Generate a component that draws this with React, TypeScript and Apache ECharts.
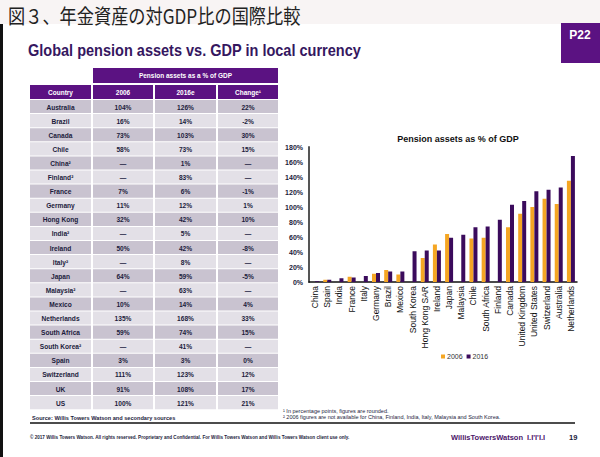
import React, { useEffect, useRef } from "react";
import * as echarts from "echarts";

// ---- Table data ----
const tableCountries = [
  "Australia", "Brazil", "Canada", "Chile", "China²", "Finland²", "France", "Germany",
  "Hong Kong", "India²", "Ireland", "Italy²", "Japan", "Malaysia²", "Mexico", "Netherlands",
  "South Africa", "South Korea²", "Spain", "Switzerland", "UK", "US",
];
const table2006 = [104, 16, 73, 58, null, null, 7, 11, 32, null, 50, null, 64, null, 10, 135, 59, null, 3, 111, 91, 100];
const table2016 = [126, 14, 103, 73, 1, 83, 6, 12, 42, 5, 42, 8, 59, 63, 14, 168, 74, 41, 3, 123, 108, 121];
const tableChange = [22, -2, 30, 15, null, null, -1, 1, 10, null, -8, null, -5, null, 4, 33, 15, null, 0, 12, 17, 21];
const tableHeaders = ["Country", "2006", "2016e", "Change¹"];

// ---- Chart data ----
const chartCategories = [
  "China", "Spain", "India", "France", "Italy", "Germany", "Brazil", "Mexico", "South Korea",
  "Hong Kong SAR", "Ireland", "Japan", "Malaysia", "Chile", "South Africa", "Finland", "Canada",
  "United Kingdom", "United States", "Switzerland", "Australia", "Netherlands",
];
const chart2006 = [null, 3, null, 7, null, 11, 16, 10, null, 32, 50, 64, null, 58, 59, null, 73, 91, 100, 111, 104, 135];
const chart2016 = [1, 3, 5, 6, 8, 12, 14, 14, 41, 42, 42, 59, 63, 73, 74, 83, 103, 108, 121, 123, 126, 168];
const yTicks = [0, 20, 40, 60, 80, 100, 120, 140, 160, 180];

const FONT = "'Liberation Sans', Arial, sans-serif";
const PURPLE = "#5b1282";
const ORANGE = "#f5a623";
const DARKP = "#3b0b5c";

function pct(v: number | null) {
  return v === null ? "—" : `${v}%`;
}

function buildTable(): any[] {
  const els: any[] = [];
  const colX = [30, 93, 155, 218];
  const colW = [61, 60, 61, 60];
  const rowTop = 100;
  const rowH = 14.1;
  els.push({ type: "rect", shape: { x: 93, y: 68, width: 185, height: 15 }, style: { fill: PURPLE } });
  els.push({
    type: "text", x: 185.5, y: 75.5,
    style: { text: "Pension assets as a % of GDP", fill: "#fff", font: `bold 6.5px ${FONT}`, align: "center", verticalAlign: "middle" },
  });
  tableHeaders.forEach((h, c) => {
    els.push({ type: "rect", shape: { x: colX[c], y: 85, width: colW[c], height: 14 }, style: { fill: PURPLE } });
    els.push({
      type: "text", x: colX[c] + colW[c] / 2, y: 92,
      style: { text: h, fill: "#fff", font: `bold 6.5px ${FONT}`, align: "center", verticalAlign: "middle" },
    });
  });
  tableCountries.forEach((name, r) => {
    const y = rowTop + r * rowH;
    const fill = r % 2 === 0 ? "#c9c3d0" : "#e3e0e7";
    const vals = [name, pct(table2006[r]), pct(table2016[r]), pct(tableChange[r])];
    vals.forEach((v, c) => {
      els.push({ type: "rect", shape: { x: colX[c], y: y, width: colW[c], height: rowH - 1 }, style: { fill } });
      els.push({
        type: "text", x: colX[c] + colW[c] / 2, y: y + rowH / 2,
        style: { text: v, fill: "#1c1c3c", font: `bold 6.6px ${FONT}`, align: "center", verticalAlign: "middle" },
      });
    });
  });
  return els;
}

export default function App() {
  const ref = useRef<HTMLDivElement>(null);
  useEffect(() => {
    if (!ref.current) return;
    const chart = echarts.init(ref.current, null, { renderer: "svg" });
    const graphic: any[] = [
      { type: "rect", shape: { x: 0, y: 0, width: 600, height: 24 }, style: { fill: "#f8f4f4" }, z: -10 },
      { type: "rect", shape: { x: 0, y: 24, width: 600, height: 433 }, style: { fill: "#ffffff" }, z: -10 },
      { type: "rect", shape: { x: 0, y: 24, width: 3, height: 433 }, style: { fill: "#111" } },
      {
        type: "text", x: 8, y: 15, scaleX: 0.86,
        style: { text: "図３、年金資産の対GDP比の国際比較", fill: "#222", font: `normal 20px 'Noto Sans CJK JP', sans-serif`, verticalAlign: "middle" },
      },
      { type: "rect", shape: { x: 561, y: 23, width: 39, height: 40 }, style: { fill: PURPLE } },
      {
        type: "text", x: 580, y: 35,
        style: { text: "P22", fill: "#fff", font: `bold 12px ${FONT}`, align: "center", verticalAlign: "middle" },
      },
      {
        type: "text", x: 28, y: 50, scaleX: 0.88,
        style: { text: "Global pension assets vs. GDP in local currency", fill: "#35175f", font: `bold 16.5px ${FONT}`, verticalAlign: "middle" },
      },
      ...buildTable(),
      {
        type: "text", x: 32, y: 418,
        style: { text: "Source: Willis Towers Watson and secondary sources", fill: "#1c1c3c", font: `bold 5.6px ${FONT}`, verticalAlign: "middle" },
      },
      { type: "line", shape: { x1: 30, y1: 423, x2: 575, y2: 423 }, style: { stroke: "#111", lineWidth: 1.5 } },
      {
        type: "text", x: 283, y: 411,
        style: { text: "¹ In percentage points, figures are rounded.", fill: "#1c1c3c", font: `normal 5.5px ${FONT}`, verticalAlign: "middle" },
      },
      {
        type: "text", x: 283, y: 417,
        style: { text: "² 2006 figures are not available for China, Finland, India, Italy, Malaysia and South Korea.", fill: "#1c1c3c", font: `normal 5.5px ${FONT}`, verticalAlign: "middle" },
      },
      {
        type: "text", x: 30, y: 437,
        style: { text: "© 2017 Willis Towers Watson. All rights reserved. Proprietary and Confidential. For Willis Towers Watson and Willis Towers Watson client use only.", fill: "#1c1c3c", font: `bold 4.6px ${FONT}`, verticalAlign: "middle" },
      },
      {
        type: "text", x: 451, y: 437,
        style: { text: "WillisTowersWatson", fill: "#4b1469", font: `bold 7.5px ${FONT}`, verticalAlign: "middle" },
      },
      {
        type: "text", x: 527, y: 437,
        style: { text: "I.I'I'I.I", fill: "#4b1469", font: `bold 7.5px ${FONT}`, verticalAlign: "middle" },
      },
      {
        type: "text", x: 569, y: 437,
        style: { text: "19", fill: "#1c1c3c", font: `bold 7.5px ${FONT}`, verticalAlign: "middle" },
      },
    ];

    chart.setOption({
      animation: false,
      title: {
        text: "Pension assets as % of GDP",
        left: 453, top: 129, textAlign: "center",
        textStyle: { fontFamily: FONT, fontWeight: "bold", fontSize: 9, color: "#111" },
      },
      grid: { left: 309, right: 23, top: 147, bottom: 175, containLabel: false },
      legend: {
        bottom: 92, left: 436, orient: "horizontal",
        itemWidth: 4, itemHeight: 4, itemGap: 4,
        icon: "rect",
        textStyle: { fontFamily: FONT, fontSize: 7, color: "#333", padding: [0, 0, 0, -3] },
        data: ["2006", "2016"],
      },
      xAxis: {
        type: "category",
        data: chartCategories,
        axisLine: { lineStyle: { color: "#111", width: 1.5 } },
        axisTick: { show: false },
        axisLabel: { interval: 0, rotate: 90, fontFamily: FONT, fontSize: 8.5, color: "#111", margin: 4 },
      },
      yAxis: {
        type: "value",
        min: 0, max: 180, interval: 20,
        axisLine: { show: true, lineStyle: { color: "#555", width: 2 } },
        axisTick: { show: false },
        splitLine: { show: false },
        axisLabel: {
          fontFamily: FONT, fontSize: 7, fontWeight: "bold", color: "#1a1a3a", margin: 6,
          formatter: (v: number) => (yTicks.includes(v) ? `${v}%` : ""),
        },
      },
      series: [
        { name: "2006", type: "bar", data: chart2006, barWidth: 4, barGap: "0%", itemStyle: { color: ORANGE } },
        { name: "2016", type: "bar", data: chart2016, barWidth: 4, barGap: "0%", itemStyle: { color: DARKP } },
      ],
      graphic,
    });
    return () => chart.dispose();
  }, []);
  return <div ref={ref} style={{ position: "absolute", left: 0, top: 0, width: 600, height: 457 }} />;
}
